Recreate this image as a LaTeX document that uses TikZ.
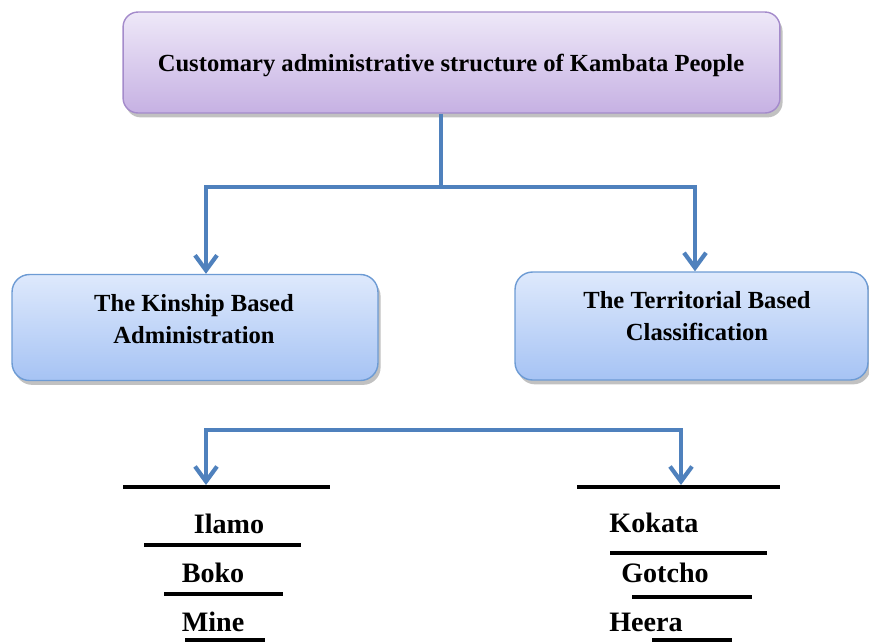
\documentclass[tikz,border=0pt]{standalone}
\usepackage{fontspec}
\setmainfont{Liberation Serif}
\usetikzlibrary{arrows.meta, positioning, shadows}
\definecolor{linkblue}{HTML}{4F81BD}
\definecolor{purpletop}{HTML}{EEE8F8}
\definecolor{purplebot}{HTML}{C6B1E3}
\definecolor{purpleedge}{HTML}{A48BCB}
\definecolor{bluetop}{HTML}{DEE9FC}
\definecolor{bluebot}{HTML}{A6C3F4}
\definecolor{blueedge}{HTML}{6D9BD4}

\begin{document}
\begin{tikzpicture}[
  x=0.02cm, y=-0.02cm,
  every node/.style={font=\bfseries\fontsize{14}{18}\selectfont},
  boxshadow/.style={drop shadow={shadow xshift=1.5pt, shadow yshift=-2.5pt, opacity=0.35, fill=black!70}},
  headbox/.style={draw=purpleedge, line width=0.8pt, rounded corners=0.3cm,
    top color=purpletop, bottom color=purplebot, boxshadow},
  groupbox/.style={draw=blueedge, line width=0.8pt, rounded corners=0.35cm,
    top color=bluetop, bottom color=bluebot, boxshadow},
  link/.style={draw=linkblue, line width=2.4pt},
  linktip/.style={-{Straight Barb[length=0.3cm, width=0.44cm]}},
  rule/.style={line width=2.7pt, black},
  item/.style={font=\bfseries\fontsize{16}{19}\selectfont}
]
\useasboundingbox (0,0) rectangle (869,643);

% Boxes
\node[headbox, minimum width=13.14cm, minimum height=2.02cm] (title) at (451.5,62.5) {};
\node (titletext) at (451,65.5) {Customary administrative structure of Kambata People};
\node[groupbox, minimum width=7.32cm, minimum height=2.12cm] (kinship) at (195,327.5) {};
\node[align=center] (kinshiptext) at (194,319) {The Kinship Based\\Administration};
\node[groupbox, minimum width=7.06cm, minimum height=2.16cm] (territorial) at (691.5,326) {};
\node[align=center] (territorialtext) at (697,316) {The Territorial Based\\Classification};

% Upper connectors
\coordinate (fork) at (441,187);
\draw[link] (title.south -| fork) -- (fork);
\draw[link, linktip] (fork) -| ([xshift=0.22cm]kinship.north);
\draw[link, linktip] (fork) -| ([xshift=0.07cm]territorial.north);

% Lower connector
\coordinate (lbar) at (206,430);
\coordinate (rbar) at (681,430);
\coordinate (kinlist) at (206,485);
\coordinate (terlist) at (681,485);
\draw[link, linktip] (rbar) -- (lbar) -- (kinlist);
\draw[link, linktip] (lbar) -- (rbar) -- (terlist);

% Kinship list
\draw[rule] (123,487) -- (330,487);
\node[item] (ilamo) at (229,524) {Ilamo};
\draw[rule] (144,545) -- (301,545);
\node[item] (boko) at (213,573) {Boko};
\draw[rule] (164,594) -- (283,594);
\node[item] (mine) at (213,622) {Mine};
\draw[rule] (185,640) -- (265,640);

% Territorial list
\draw[rule] (577,487) -- (780,487);
\node[item] (kokata) at (654,523) {Kokata};
\draw[rule] (610,553) -- (767,553);
\node[item] (gotcho) at (665,573) {Gotcho};
\draw[rule] (632,597) -- (752,597);
\node[item] (heera) at (646,622) {Heera};
\draw[rule] (652,640) -- (732,640);
\end{tikzpicture}
\end{document}
